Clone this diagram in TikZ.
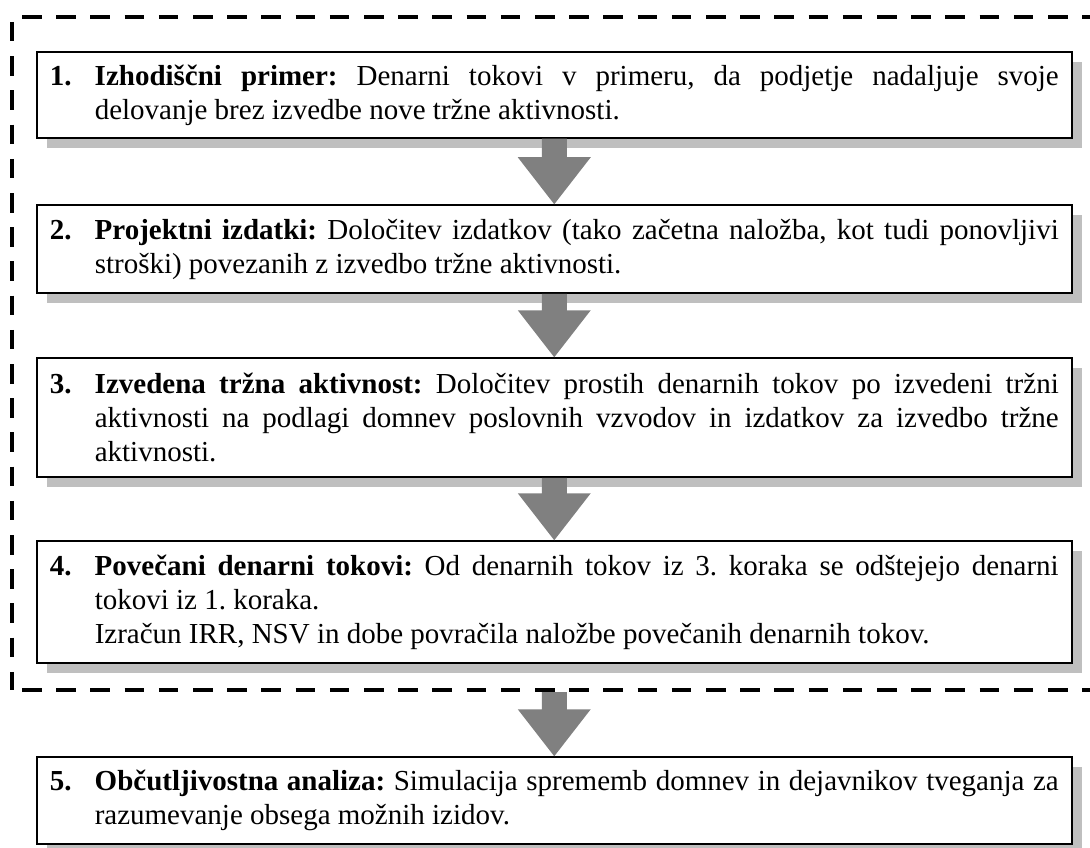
\documentclass[tikz,border=0pt]{standalone}
\usepackage{fontspec}
\setmainfont{Liberation Serif}
\usetikzlibrary{shadows,calc}

% number in the hanging margin, bold heading, then the body text
\newcommand\stepitem[3]{\frenchspacing\leftskip=45pt\noindent\llap{\makebox[45pt][l]{\textbf{#1}}}\textbf{#2} #3\par}
% fat grey arrow from a start point down to a tip point
\newcommand\flowarrow[2]{%
  \fill[blockarrow] ($(#1)+(-12.5,0)$) -- ($(#2)+(-12.5,-47)$) -- ($(#2)+(-36.5,-47)$)
    -- (#2) -- ($(#2)+(36.5,-47)$) -- ($(#2)+(12.5,-47)$) -- ($(#1)+(12.5,0)$) -- cycle;}

\tikzset{
  stepbox/.style={draw=black, line width=1.5pt, fill=white, text width=1009pt,
    inner xsep=13pt, inner ysep=0pt, align=justify,
    font=\fontsize{29}{34}\selectfont,
    drop shadow={shadow xshift=10pt, shadow yshift=-10pt, fill=black!25, opacity=1}},
  blockarrow/.style={fill=black!50, draw=none},
  frameline/.style={draw=black, line width=4.5pt, dash pattern=on 19.5pt off 14.7pt},
  frameregion/.style={inner sep=0pt, anchor=north west},
}

\begin{document}
\begin{tikzpicture}[x=1pt,y=-1pt]
\clip (0,0) rectangle (1090,848);

% dashed frame around steps 1-4 (its right side runs off the page)
\node[frameregion, minimum width=1098pt, minimum height=672.5pt] (frame) at (12,17) {};
\draw[frameline, dash phase=29.2pt] (frame.north west) -- (frame.south west);
\draw[frameline, dash phase=24.2pt] (frame.north west) -- (frame.north east);
\draw[frameline, dash phase=24.2pt] (frame.south west) -- (frame.south east);

\node[stepbox, minimum height=86pt] (b1) at (554.25,95)
  {\stepitem{1.}{Izhodiščni primer:}{Denarni tokovi v primeru, da podjetje nadaljuje svoje\linebreak delovanje brez izvedbe nove tržne aktivnosti.}};
\node[stepbox, minimum height=88pt] (b2) at (554.25,249)
  {\stepitem{2.}{Projektni izdatki:}{Določitev izdatkov (tako začetna naložba, kot tudi ponovljivi\linebreak stroški) povezanih z izvedbo tržne aktivnosti.}};
\node[stepbox, minimum height=119pt] (b3) at (554.25,417.5)
  {\stepitem{3.}{Izvedena tržna aktivnost:}{Določitev prostih denarnih tokov po izvedeni tržni\linebreak aktivnosti na podlagi domnev poslovnih vzvodov in izdatkov za izvedbo tržne\linebreak aktivnosti.}};
\node[stepbox, minimum height=122pt] (b4) at (554.25,602)
  {\stepitem{4.}{Povečani denarni tokovi:}{Od denarnih tokov iz 3. koraka se odštejejo denarni\linebreak tokovi iz 1. koraka.\par\noindent Izračun IRR, NSV in dobe povračila naložbe povečanih denarnih tokov.}};
\node[stepbox, minimum height=87pt] (b5) at (554.25,800.5)
  {\stepitem{5.}{Občutljivostna analiza:}{Simulacija sprememb domnev in dejavnikov tveganja za\linebreak razumevanje obsega možnih izidov.}};

\flowarrow{b1.south}{b2.north}
\flowarrow{b2.south}{b3.north}
\flowarrow{b3.south}{b4.north}
\coordinate (fout) at ($(b5.north |- frame.south)+(0,2.25)$);
\flowarrow{fout}{b5.north}
\end{tikzpicture}
\end{document}
